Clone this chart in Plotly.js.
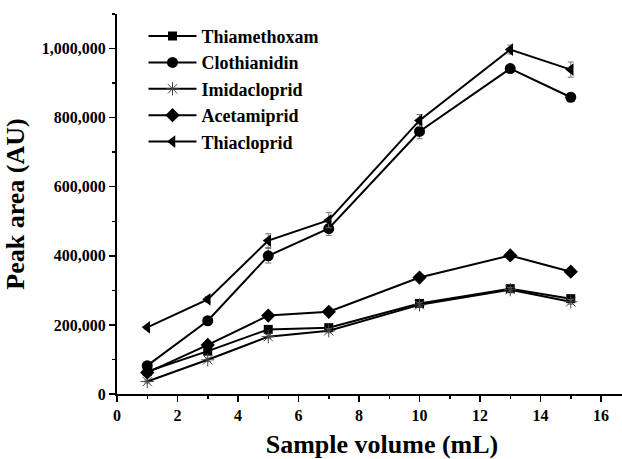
<!DOCTYPE html>
<html>
<head>
<meta charset="utf-8">
<script src="https://cdn.plot.ly/plotly-3.0.1.min.js"></script>
<style>html,body{margin:0;padding:0;background:#fff;overflow:hidden;}#wrap{width:622px;height:459px;overflow:hidden;}#chart{width:647px;height:459px;}</style>
</head>
<body>
<div id="wrap"><div id="chart"></div></div>
<script>
const volumes = [1, 3, 5, 7, 10, 13, 15];
const seriesNames = ["Thiamethoxam", "Clothianidin", "Imidacloprid", "Acetamiprid", "Thiacloprid"];
const thiamethoxam = [65000, 124000, 187000, 192000, 262000, 305000, 276000];
const clothianidin = [82000, 212000, 400000, 479000, 760000, 942000, 859000];
const imidacloprid = [36000, 99000, 166000, 183000, 258000, 302000, 267000];
const acetamiprid = [62000, 142000, 227000, 238000, 337000, 401000, 354000];
const thiacloprid = [193000, 274000, 444000, 503000, 792000, 997000, 939000];
const thiamethoxamErr = [4000, 5000, 6000, 6000, 7000, 8000, 8000];
const clothianidinErr = [6000, 8000, 21000, 20000, 21000, 8000, 12000];
const imidaclopridErr = [4000, 5000, 6000, 6000, 6000, 6000, 7000];
const acetamipridErr = [4000, 5000, 6000, 6000, 6000, 7000, 6000];
const thiaclopridErr = [5000, 8000, 20000, 22000, 17000, 13000, 22000];

const values = [thiamethoxam, clothianidin, imidacloprid, acetamiprid, thiacloprid];
const errors = [thiamethoxamErr, clothianidinErr, imidaclopridErr, acetamipridErr, thiaclopridErr];
const symbols = ["square", "circle", "asterisk-open", "diamond", "triangle-left"];
const sizes = [9, 11, 11, 11, 11];

const traces = seriesNames.map((name, i) => ({
  x: volumes,
  y: values[i],
  name: name,
  type: "scatter",
  mode: "lines+markers",
  line: {color: "#000", width: 2},
  marker: symbols[i] === "asterisk-open"
    ? {symbol: symbols[i], size: sizes[i], color: "#444", line: {color: "#444", width: 1}}
    : {symbol: symbols[i], size: sizes[i], color: "#000", line: {width: 0}},
  error_y: {type: "data", array: errors[i], visible: true, color: "#777", thickness: 1, width: 3}
}));

const FAM = "Liberation Serif";
const axisFont = {family: FAM, size: 16, color: "#000", weight: "bold"};

const layout = {
  width: 647, height: 459,
  margin: {l: 117, r: 0, t: 14, b: 65},
  paper_bgcolor: "#fff", plot_bgcolor: "#fff",
  font: {family: FAM, color: "#000"},
  showlegend: true,
  legend: {
    x: 0.05, y: 0.99, xanchor: "left", yanchor: "top",
    font: {family: FAM, size: 18, color: "#000", weight: "bold"},
    bgcolor: "rgba(0,0,0,0)", tracegroupgap: 0, itemwidth: 48
  },
  xaxis: {
    range: [0, 17.52], tick0: 0, dtick: 2,
    showgrid: false, zeroline: false,
    showline: true, linecolor: "#000", linewidth: 2,
    ticks: "outside", ticklen: 6, tickwidth: 1.5, tickcolor: "#000",
    minor: {dtick: 1, ticks: "outside", ticklen: 3, tickwidth: 1.5, tickcolor: "#000"},
    tickfont: axisFont,
    title: {text: "Sample volume (mL)", font: {family: FAM, size: 26, color: "#000", weight: "bold"}, standoff: 18}
  },
  yaxis: {
    range: [0, 1100000], tick0: 0, dtick: 200000,
    tickformat: ",d",
    showgrid: false, zeroline: false,
    showline: true, linecolor: "#000", linewidth: 2,
    ticks: "outside", ticklen: 6, tickwidth: 1.5, tickcolor: "#000",
    minor: {dtick: 100000, ticks: "outside", ticklen: 3, tickwidth: 1.5, tickcolor: "#000"},
    tickfont: axisFont,
    title: {text: "Peak area (AU)", font: {family: FAM, size: 26, color: "#000", weight: "bold"}, standoff: 10}
  }
};

Plotly.newPlot("chart", traces, layout, {displayModeBar: false, staticPlot: true});
</script>
</body>
</html>
